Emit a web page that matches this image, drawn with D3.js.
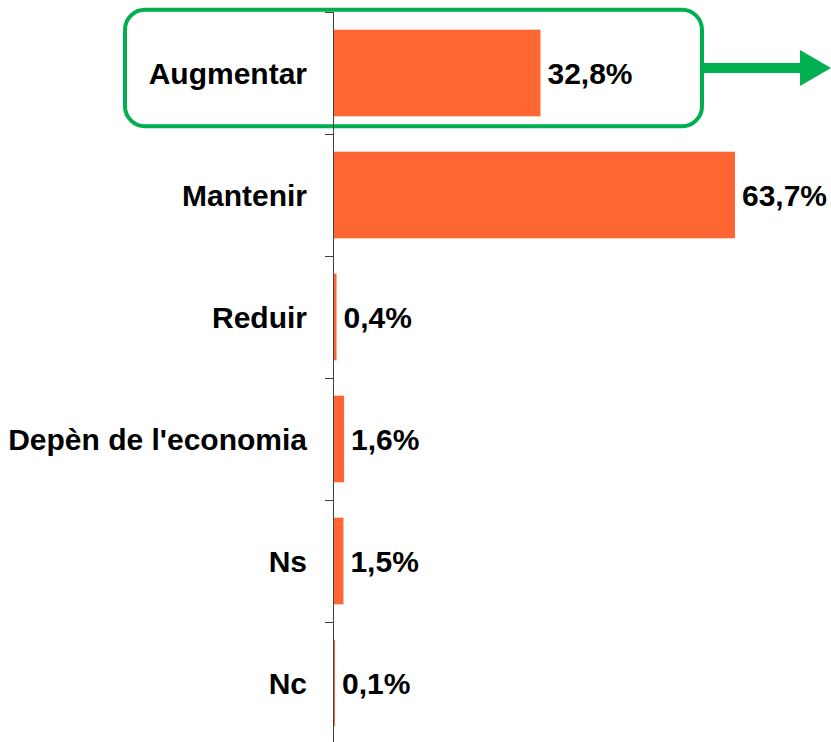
<!DOCTYPE html>
<html>
<head>
<meta charset="utf-8">
<script src="https://cdn.jsdelivr.net/npm/d3@7"></script>
<style>
  body { margin: 0; background: #fff; }
  text { font-family: "Liberation Sans", Arial, sans-serif; font-weight: bold; }
</style>
</head>
<body>
<svg id="chart" width="831" height="742"></svg>
<script>
var categories = ["Augmentar", "Mantenir", "Reduir", "Depèn de l'economia", "Ns", "Nc"];
var values = [32.8, 63.7, 0.4, 1.6, 1.5, 0.1];
var valueLabels = ["32,8%", "63,7%", "0,4%", "1,6%", "1,5%", "0,1%"];

var data = categories.map(function(c, i) {
  return { cat: c, val: values[i], label: valueLabels[i] };
});

var svg = d3.select("#chart");
var x0 = 334;

var x = d3.scaleLinear()
    .domain([0, 100])
    .range([x0, x0 + 629.5]);

var y = d3.scaleBand()
    .domain(categories)
    .range([12, 744])
    .paddingInner(0.29)
    .paddingOuter(0.145);

// bars
svg.selectAll("rect.bar")
    .data(data)
    .enter().append("rect")
    .attr("class", "bar")
    .attr("x", x(0))
    .attr("y", function(d) { return y(d.cat); })
    .attr("width", function(d) { return Math.max(x(d.val) - x(0), 1); })
    .attr("height", y.bandwidth())
    .attr("fill", "#ff6633");

// highlight box round the first category, with arrow
var green = "#00b050";
var top0 = y(categories[0]);
svg.append("rect")
    .attr("x", 125).attr("y", top0 - 20)
    .attr("width", 577).attr("height", y.bandwidth() + 30)
    .attr("rx", 20).attr("ry", 20)
    .attr("fill", "none")
    .attr("stroke", green)
    .attr("stroke-width", 4);

var midY = top0 + y.bandwidth() / 2 - 5;
svg.append("line")
    .attr("x1", 703).attr("x2", 801)
    .attr("y1", midY).attr("y2", midY)
    .attr("stroke", green)
    .attr("stroke-width", 10);

svg.append("path")
    .attr("d", "M800," + (midY - 18) + "L831," + midY + "L800," + (midY + 18) + "Z")
    .attr("fill", green);

// axis line and band boundary ticks
svg.append("line")
    .attr("x1", x0 - 0.5).attr("x2", x0 - 0.5)
    .attr("y1", 12).attr("y2", 742)
    .attr("stroke", "#404040")
    .attr("stroke-width", 1);

var edges = categories.map(function(c) { return y(c) - y.step() * y.paddingInner() / 2; });
svg.selectAll("line.tick")
    .data(edges)
    .enter().append("line")
    .attr("class", "tick")
    .attr("x1", x0 - 9).attr("x2", x0)
    .attr("y1", function(d) { return Math.round(d) + 0.5; })
    .attr("y2", function(d) { return Math.round(d) + 0.5; })
    .attr("stroke", "#404040");

// category labels
svg.selectAll("text.cat")
    .data(data)
    .enter().append("text")
    .attr("class", "cat")
    .attr("x", x0 - 27)
    .attr("y", function(d) { return y(d.cat) + y.bandwidth() / 2; })
    .attr("dy", "0.36em")
    .attr("text-anchor", "end")
    .attr("font-size", 30)
    .attr("fill", "#000")
    .text(function(d) { return d.cat; });

// value labels
svg.selectAll("text.val")
    .data(data)
    .enter().append("text")
    .attr("class", "val")
    .attr("x", function(d) { return Math.max(x(d.val), x0 + 1) + 7; })
    .attr("y", function(d) { return y(d.cat) + y.bandwidth() / 2; })
    .attr("dy", "0.36em")
    .attr("font-size", 30)
    .attr("fill", "#000")
    .text(function(d) { return d.label; });
</script>
</body>
</html>
